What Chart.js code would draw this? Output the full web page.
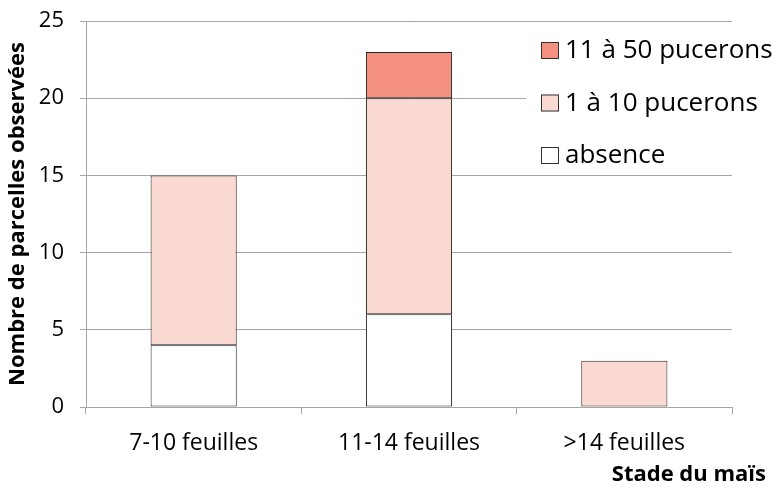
<!DOCTYPE html>
<html>
<head>
<meta charset="utf-8">
<script src="https://cdn.jsdelivr.net/npm/chart.js@4.4.0/dist/chart.umd.min.js"></script>
<style>
  html, body { margin: 0; padding: 0; background: #fff; }
  #wrap { width: 780px; height: 488px; }
</style>
</head>
<body>
<div id="wrap"><canvas id="chart"></canvas></div>
<script>
// stades du maïs
const categories = ['7-10 feuilles', '11-14 feuilles', '>14 feuilles'];
// nombre de parcelles par classe d'infestation
const absence = [4, 6, 0];
const unADix = [11, 14, 3];
const onzeACinquante = [0, 3, 0];
const seriesLabels = ['absence', '1 à 10 pucerons', '11 à 50 pucerons'];
const xTitle = 'Stade du maïs';
const yTitle = 'Nombre de parcelles observées';
const yMax = 25;
const yStep = 5;

const FONT = '"Open Sans", "Noto Sans", sans-serif';

// legende dessinee a la main, en haut a droite, fond blanc par-dessus la grille
// + titre de l'axe x cale a droite comme dans Excel
const extras = {
  id: 'extras',
  beforeDatasetsDraw(chart) {
    const ctx = chart.ctx;
    ctx.save();
    ctx.fillStyle = '#fff';
    ctx.fillRect(526, 28, 254, 146);
    const ds = chart.data.datasets.slice().reverse();
    ctx.font = '26px ' + FONT;
    ctx.textBaseline = 'middle';
    ds.forEach((d, i) => {
      const y = 50 + i * 52.5;
      ctx.fillStyle = d.backgroundColor;
      ctx.fillRect(541, y - 8, 18, 17);
      ctx.strokeStyle = '#333';
      ctx.lineWidth = 1;
      ctx.strokeRect(541.5, y - 7.5, 17, 16);
      ctx.fillStyle = '#000';
      ctx.fillText(d.label, 565, y + 1);
    });
    ctx.restore();
  },
  afterDraw(chart) {
    const ctx = chart.ctx;
    ctx.save();
    ctx.font = 'bold 22px ' + FONT;
    ctx.fillStyle = '#000';
    ctx.textAlign = 'right';
    ctx.textBaseline = 'middle';
    ctx.fillText(xTitle, 766, 475);
    ctx.restore();
  }
};

new Chart(document.getElementById('chart'), {
  type: 'bar',
  data: {
    labels: categories,
    datasets: [
      { label: seriesLabels[0], data: absence, backgroundColor: '#ffffff' },
      { label: seriesLabels[1], data: unADix, backgroundColor: '#fbd9d3' },
      { label: seriesLabels[2], data: onzeACinquante, backgroundColor: '#f4907f' }
    ].map(d => Object.assign(d, {
      borderColor: '#222',
      borderWidth: c => (c.raw ? 1 : 0),
      borderSkipped: false,
      barPercentage: 0.4,
      categoryPercentage: 1
    }))
  },
  options: {
    responsive: true,
    maintainAspectRatio: false,
    animation: false,
    layout: { padding: { top: 21, right: 48, left: 0, bottom: 0 } },
    plugins: {
      legend: { display: false },
      tooltip: { enabled: false }
    },
    scales: {
      x: {
        stacked: true,
        grid: { display: true, drawOnChartArea: false, color: '#a6a6a6', tickLength: 7, offset: true },
        border: { color: '#a6a6a6' },
        ticks: { color: '#000', font: { family: FONT, size: 23 }, padding: 16 },
        afterFit(s) { s.height = 81; s.paddingLeft = 0; s.paddingRight = 0; }
      },
      y: {
        stacked: true,
        min: 0, max: yMax,
        grid: { color: '#a6a6a6', tickLength: 6 },
        border: { color: '#a6a6a6' },
        ticks: { stepSize: yStep, color: '#000', font: { family: FONT, size: 22 }, padding: 16 },
        title: {
          display: true, text: yTitle, color: '#000',
          font: { family: FONT, size: 22, weight: 'bold' }, padding: { top: 5, bottom: 0 }
        },
        afterFit(s) { s.width = 86; s.paddingTop = 0; s.paddingBottom = 0; }
      }
    }
  },
  plugins: [extras]
});
</script>
</body>
</html>
